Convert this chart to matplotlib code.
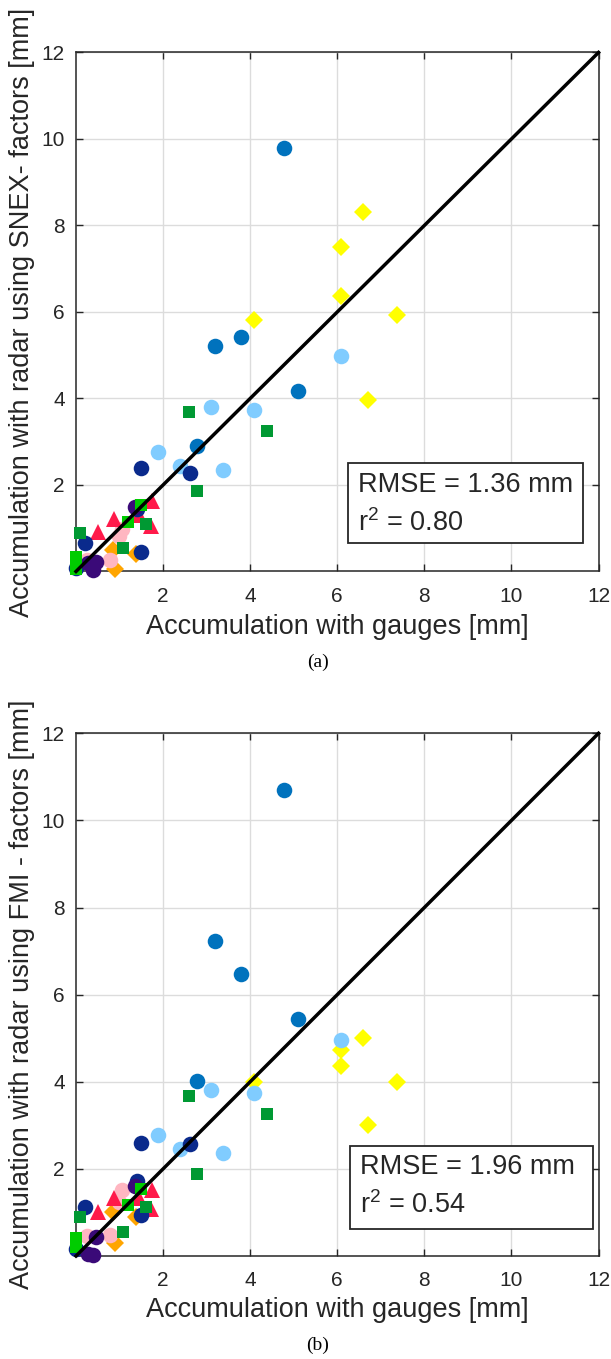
import numpy as np
import matplotlib
matplotlib.use('Agg')
import matplotlib.pyplot as plt
from matplotlib.patches import Rectangle

plt.rcParams['font.family'] = ['Liberation Sans', 'DejaVu Sans']
plt.rcParams['mathtext.fontset'] = 'custom'
plt.rcParams['mathtext.rm'] = 'Liberation Sans'
plt.rcParams['mathtext.it'] = 'Liberation Sans'

# gauge accumulation (x) and radar accumulation with SNEX (a) / FMI (b) factors
navy_x = [1.49, 2.62, 1.40, 0.20, 1.49, 0.0]
navy_a = [2.40, 2.28, 1.45, 0.65, 0.46, 0.07]
navy_b = [2.59, 2.57, 1.72, 1.12, 0.94, 0.15]

blue_x = [4.78, 3.19, 3.78, 5.09, 2.78]
blue_a = [9.78, 5.21, 5.43, 4.17, 2.90]
blue_b = [10.70, 7.23, 6.47, 5.43, 4.02]

lblue_x = [6.09, 3.10, 4.08, 1.89, 2.39, 3.38]
lblue_a = [4.98, 3.80, 3.73, 2.77, 2.44, 2.35]
lblue_b = [4.96, 3.80, 3.74, 2.77, 2.45, 2.37]

yellow_x = [6.58, 6.08, 6.09, 7.38, 4.09, 6.70]
yellow_a = [8.30, 7.50, 6.37, 5.93, 5.81, 3.97]
yellow_b = [5.01, 4.72, 4.37, 3.99, 4.00, 3.00]

dgreen_x = [2.60, 4.38, 2.79, 1.61, 0.09, 1.09]
dgreen_a = [3.68, 3.25, 1.87, 1.10, 0.88, 0.54]
dgreen_b = [3.68, 3.26, 1.88, 1.12, 0.90, 0.56]

bgreen_x = [1.49, 1.20, 0.0, 0.0]
bgreen_a = [1.54, 1.15, 0.34, 0.05]
bgreen_b = [1.53, 1.17, 0.41, 0.20]

red_x = [1.74, 0.88, 1.72, 0.50, 1.45]
red_a = [1.64, 1.21, 1.05, 0.92, 1.30]
red_b = [1.51, 1.33, 1.09, 1.00, 1.33]

pink_x = [1.06, 0.99, 0.78, 0.26]
pink_a = [0.98, 0.82, 0.27, 0.27]
pink_b = [1.52, 1.25, 0.48, 0.46]

orange_x = [0.86, 1.38, 0.90]
orange_a = [0.50, 0.40, 0.05]
orange_b = [1.02, 0.90, 0.29]

indigo_x = [0.28, 0.45, 0.40, 1.36]
indigo_a = [0.20, 0.23, 0.03, 1.48]
indigo_b = [0.05, 0.44, 0.02, 1.60]

groups = [
    # x, y(a), y(b), colour, marker, size
    (yellow_x, yellow_a, yellow_b, '#ffff00', 'D', 9.0),
    (blue_x, blue_a, blue_b, '#0072bd', 'o', 11.2),
    (lblue_x, lblue_a, lblue_b, '#80ccff', 'o', 11.2),
    (orange_x, orange_a, orange_b, '#ffa500', 'D', 9.0),
    (pink_x, pink_a, pink_b, '#ffb6c1', 'o', 11.2),
    (red_x, red_a, red_b, '#ff1a4a', '^', 11.5),
    (navy_x, navy_a, navy_b, '#0a2a8c', 'o', 11.2),
    (indigo_x, indigo_a, indigo_b, '#3a0a78', 'o', 11.2),
    (dgreen_x, dgreen_a, dgreen_b, '#009933', 's', 8.8),
    (bgreen_x, bgreen_a, bgreen_b, '#00cc00', 's', 9.2),
]

ylabels = ['Accumulation with radar using SNEX- factors [mm]',
           'Accumulation with radar using FMI - factors [mm]']
rmse = ['RMSE = 1.36 mm', 'RMSE = 1.96 mm']
r2 = ['r$^2$ = 0.80', 'r$^2$ = 0.54']
captions = ['(a)', '(b)']

fig = plt.figure(figsize=(6.11, 13.59), dpi=100)
ax_a = fig.add_axes([0.1244, 0.5795, 0.8552, 0.3819])
ax_b = fig.add_axes([0.1244, 0.0758, 0.8552, 0.3846])

# box (x0, y0, w, h) and text rows, axes coords
box_pos = [(0.5206, 0.0543, 0.4504, 0.1542), (0.5244, 0.0517, 0.4645, 0.1587)]
row1 = [0.166, 0.1708]
row2 = [0.0935, 0.0976]
xlab_y = [-0.082, -0.078]
cap_y = [1 - 662/1359, 1 - 1345/1359]

for k, ax in enumerate([ax_a, ax_b]):
    for gx, ga, gb, col, mk, ms in groups:
        gy = ga if k == 0 else gb
        ax.plot(gx, gy, linestyle='none', marker=mk, color=col,
                markersize=ms, markeredgewidth=0, zorder=3, clip_on=False)
    ax.plot([0, 12], [0, 12], color='black', linewidth=2.5, zorder=4,
            clip_on=False)
    ax.set_xlim(0, 12)
    ax.set_ylim(0, 12)
    ax.set_xticks([2, 4, 6, 8, 10, 12])
    ax.set_yticks([2, 4, 6, 8, 10, 12])
    ax.grid(True, color='#dcdcdc', linewidth=1.0, zorder=0)
    ax.set_axisbelow(True)
    ax.tick_params(direction='in', length=5, width=1, top=True, right=True,
                   labelsize=15, colors='#262626', pad=8)
    ax.tick_params(axis='x', pad=11)
    for s in ax.spines.values():
        s.set_color('#262626')
        s.set_linewidth(1.1)
    ax.set_xlabel('Accumulation with gauges [mm]', fontsize=19.5, color='#262626')
    ax.set_ylabel(ylabels[k], fontsize=19.5, color='#262626')
    ax.yaxis.set_label_coords(-0.078, 0.5)
    ax.xaxis.set_label_coords(0.5, xlab_y[k])

    bx, by, bw, bh = box_pos[k]
    ax.add_patch(Rectangle((bx, by), bw, bh, transform=ax.transAxes,
                           facecolor='white', edgecolor='#262626',
                           linewidth=1.3, zorder=5))
    ax.text(bx + 0.019, row1[k], rmse[k], transform=ax.transAxes,
            fontsize=19.5, va='center', ha='left', color='#262626', zorder=6)
    ax.text(bx + 0.019, row2[k], r2[k], transform=ax.transAxes,
            fontsize=19.5, va='center', ha='left', color='#262626', zorder=6)

    fig.text(318/611, cap_y[k], captions[k], fontsize=14,
             family=['Liberation Serif'], ha='center', va='center')

fig.savefig('out.png', dpi=100)
